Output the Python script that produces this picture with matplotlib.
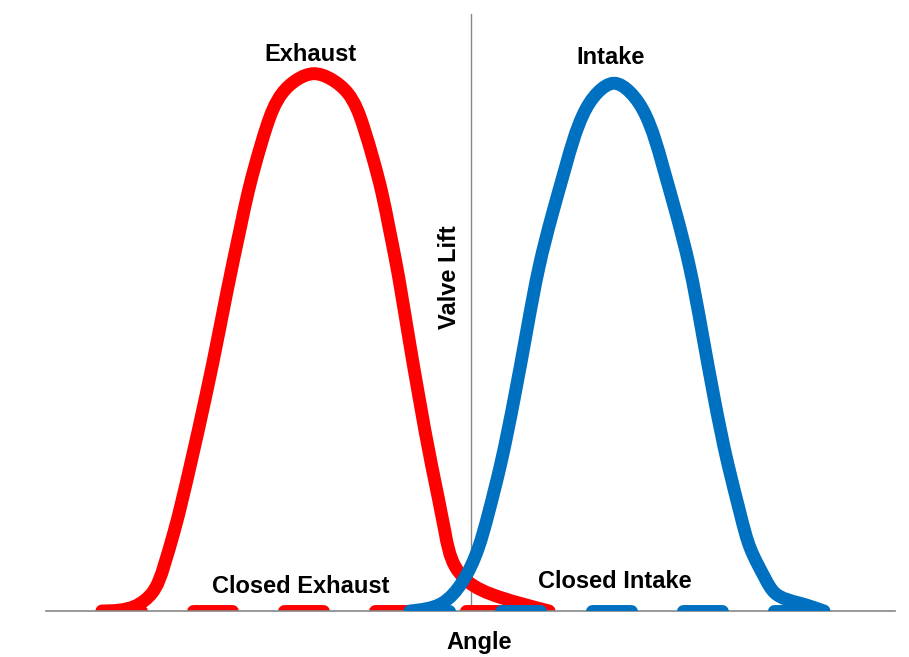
import matplotlib
matplotlib.use('Agg')
import matplotlib.pyplot as plt
from matplotlib.path import Path
from matplotlib.patches import PathPatch
import numpy as np

plt.rcParams['font.family'] = ['Liberation Sans', 'DejaVu Sans']
plt.rcParams['lines.scale_dashes'] = False

# Valve lift curves (angle in degrees, lift in arbitrary units)
exhaust_angle = [-283.5, -258.1, -245.0, -235.8, -228.1, -215.4, -203.8, -193.1, -182.3,
                 -176.9, -171.2, -164.6, -156.9, -144.6, -133.5, -120.4, -107.3, -94.6,
                 -82.3, -74.6, -68.1, -62.7, -57.7, -48.5, -39.6, -30.0, -19.6, -11.9,
                 -3.5, 22.7, 60.4]
exhaust_lift = [0, 0.08, 0.30, 0.75, 1.32, 2.45, 3.58, 4.71, 5.88,
                6.43, 7.00, 7.55, 8.11, 8.68, 8.90, 9.00, 8.91, 8.68,
                8.11, 7.55, 7.00, 6.43, 5.88, 4.71, 3.58, 2.45, 1.32, 0.75,
                0.52, 0.23, 0]

intake_angle = [-46.5, -21.9, -6.5, 5.8, 13.5, 23.1, 33.8, 43.5, 53.1, 62.7, 73.5,
                86.5, 98.1, 110.4, 122.7, 134.6, 147.7, 158.5, 168.1, 177.7, 187.3,
                198.1, 207.7, 215.4, 226.5, 234.2, 253.5, 271.9]
intake_lift = [0, 0.13, 0.48, 1.04, 1.61, 2.45, 3.58, 4.72, 5.80, 6.63, 7.47,
               8.31, 8.69, 8.84, 8.69, 8.31, 7.47, 6.63, 5.80, 4.72, 3.58,
               2.45, 1.61, 1.04, 0.55, 0.30, 0.13, 0]

# Closed periods (lift = 0) drawn as dashed lines
closed_exhaust_angle = [-283.5, 60.4]
closed_intake_angle = [-46.5, 271.9]
closed_lift = [0, 0]

red = '#FF0000'
blue = '#0070C0'
lw = 9.3
dash = (28.1, 37.4)

XLIM = (-326.5, 326.5)
YLIM = (0, 10)
PX_X = 849 / (XLIM[1] - XLIM[0])
PX_Y = 597 / (YLIM[1] - YLIM[0])


def smooth_path(xs, ys):
    # smoothed line through the read points: natural cubic spline (chord length),
    # handed to matplotlib as cubic Bezier segments
    scale = np.array([PX_X, PX_Y])
    P = np.column_stack([xs, ys]).astype(float) * scale
    n = len(P) - 1
    h = np.hypot(*np.diff(P, axis=0).T)
    A = np.zeros((n + 1, n + 1))
    B = np.zeros((n + 1, 2))
    A[0, 0] = A[n, n] = 1
    for i in range(1, n):
        A[i, i - 1] = h[i - 1]
        A[i, i] = 2 * (h[i - 1] + h[i])
        A[i, i + 1] = h[i]
        B[i] = 6 * ((P[i + 1] - P[i]) / h[i] - (P[i] - P[i - 1]) / h[i - 1])
    M = np.linalg.solve(A, B)
    D = np.zeros_like(P)
    for i in range(n):
        D[i] = (P[i + 1] - P[i]) / h[i] - h[i] * (2 * M[i] + M[i + 1]) / 6
    D[n] = (P[n] - P[n - 1]) / h[n - 1] + h[n - 1] * (M[n - 1] + 2 * M[n]) / 6
    verts = [P[0]]
    codes = [Path.MOVETO]
    for i in range(n):
        verts += [P[i] + D[i] * h[i] / 3, P[i + 1] - D[i + 1] * h[i] / 3, P[i + 1]]
        codes += [Path.CURVE4] * 3
    return Path(np.array(verts) / scale, codes)


fig = plt.figure(figsize=(9.09, 6.57), dpi=100)
ax = fig.add_axes([46 / 909, (657 - 611) / 657, 849 / 909, 597 / 657])
ax.set_xlim(*XLIM)
ax.set_ylim(*YLIM)
for s in ['top', 'right', 'left']:
    ax.spines[s].set_visible(False)
ax.spines['bottom'].set_color('#878787')
ax.spines['bottom'].set_linewidth(1.2)
ax.set_xticks([])
ax.set_yticks([])
ax.axvline(0, color='#878787', lw=1.0, zorder=0.5)

# exhaust
ax.add_patch(PathPatch(smooth_path(exhaust_angle, exhaust_lift), fill=False,
                       edgecolor=red, lw=lw, capstyle='round', joinstyle='round', zorder=2))
ax.plot(closed_exhaust_angle, closed_lift, color=red, lw=lw, dashes=dash,
        dash_capstyle='round', solid_capstyle='round', zorder=2)

# intake
ax.add_patch(PathPatch(smooth_path(intake_angle, intake_lift), fill=False,
                       edgecolor=blue, lw=lw, capstyle='round', joinstyle='round', zorder=3))
ax.plot(closed_intake_angle, closed_lift, color=blue, lw=lw, dashes=dash,
        dash_capstyle='round', solid_capstyle='round', zorder=3)

tk = dict(fontsize=17, fontweight='bold', color='black', ha='center')
ax.text(-122.7, 9.21, 'Exhaust', va='baseline', **tk)
ax.text(108.1, 9.16, 'Intake', va='baseline', **tk)
ax.text(-130.4, 0.30, 'Closed Exhaust', va='baseline', **tk)
ax.text(111.2, 0.385, 'Closed Intake', va='baseline', **tk)
ax.text(6.5, -0.636, 'Angle', va='baseline', clip_on=False, **tk)
ax.text(-16.0, 5.59, 'Valve Lift', va='center', rotation=90, **tk)

fig.savefig('out.png', dpi=100, facecolor='white')
